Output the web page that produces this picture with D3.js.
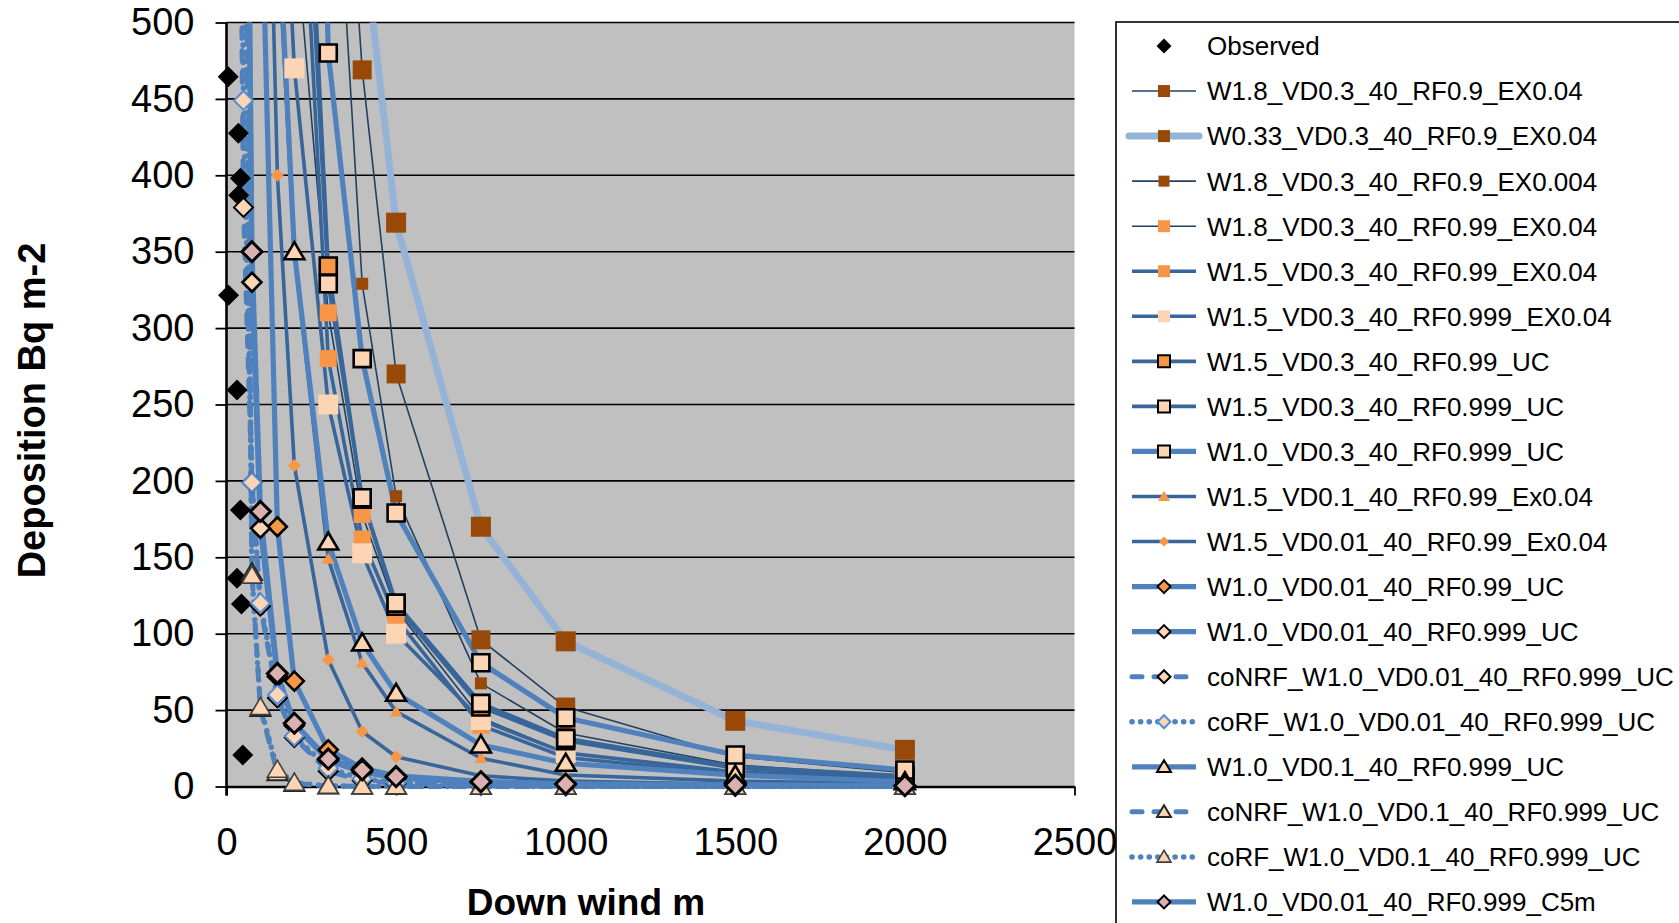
<!DOCTYPE html>
<html>
<head>
<meta charset="utf-8">
<script src="https://cdn.jsdelivr.net/npm/d3@7"></script>
<style>
  html, body { margin: 0; padding: 0; background: #ffffff; }
  svg { display: block; font-family: "Liberation Sans", Arial, sans-serif; }
</style>
</head>
<body>
<svg id="chart" width="1679" height="923"></svg>
<script>
// ---- data -------------------------------------------------------------
// Down-wind sampling distances (m) shared by all model runs
const distances = [25, 50, 75, 100, 150, 200, 300, 400, 500, 750, 1000, 1500, 2000];

// Field measurements
const obsDistance   = [5, 35, 41, 36, 6, 31, 41, 31, 44, 48];
const obsDeposition = [464.5, 427.5, 398, 387, 321.5, 259.5, 181, 136.3, 119.4, 20.6];

// Model runs, deposition (Bq m-2) at each distance; null = no point
const w18Vd03Rf09Ex04     = [null, null, null, null, null, null, 800, 469, 270, 96, 52, 19.5, 9];
const w033Vd03Rf09Ex04    = [null, null, null, null, null, null, 1000, 562, 369, 170, 95, 43, 24];
const w18Vd03Rf09Ex004    = [null, null, null, null, null, null, 700, 329, 190, 67.5, 35, 14, 7];
const w18Vd03Rf099Ex04    = [null, null, null, null, null, 567, 310, 178, 116, 45, 22, 9, 5];
const w15Vd03Rf099Ex04    = [null, null, null, null, null, 700, 280, 162, 110, 40, 19, 8, 4.5];
const w15Vd03Rf0999Ex04   = [null, null, null, null, 690, 470, 250, 152.6, 100, 43.5, 22, 9.5, 5.5];
const w15Vd03Rf099Uc      = [null, null, null, null, null, 800, 340.6, 188, 118, 52, 30, 12, 6];
const w15Vd03Rf0999Uc     = [null, null, null, null, null, 760, 329, 189, 120, 54.4, 31.5, 13, 7];
const w10Vd03Rf0999Uc     = [null, null, null, null, null, 1400, 480, 280, 179, 81, 45, 20.6, 10.8];
const w15Vd01Rf099Ex04    = [null, null, null, null, 560, 350, 149, 81, 49, 18.5, 7.5, 3.5, 2];
const w15Vd001Rf099Ex04   = [null, null, null, 850, 400, 210, 83, 36, 19.5, 7, 3.5, 1.5, 0.8];
const w10Vd001Rf099Uc     = [null, null, null, 615, 170, 69, 24, 12, 7, 3.3, 1.8, 1, 0.6];
const w10Vd001Rf0999Uc    = [null, 900, 330, 169, 72, 40, 17, 9.5, 5.5, 2.5, 1.4, 0.8, 0.4];
const coNrfVd001Rf0999Uc  = [1000, 379, 199, 118, 58, 32, 10, 4, 2, 0.6, 0.3, 0.1, 0.05];
const coRfVd001Rf0999Uc   = [1200, 449, 199, 120, 60, 33, 12, 5, 2.5, 0.8, 0.4, 0.15, 0.08];
const w10Vd01Rf0999Uc     = [null, null, null, null, 580, 350, 160, 94, 61, 27.2, 15.2, 7.5, 3.1];
const coNrfVd01Rf0999Uc   = [null, 740, 140, 51, 9, 2, 0.3, 0.1, 0.05, 0, 0, 0, 0];
const coRfVd01Rf0999Uc    = [null, 700, 138, 52, 11, 2.5, 0.4, 0.15, 0.1, 0, 0, 0, 0];
const w10Vd001Rf0999C5m   = [null, 950, 350, 180, 74, 41.4, 18, 10.8, 6.4, 3.1, 1.6, 0.9, 0.5];

const seriesLabels = [
  "Observed",
  "W1.8_VD0.3_40_RF0.9_EX0.04",
  "W0.33_VD0.3_40_RF0.9_EX0.04",
  "W1.8_VD0.3_40_RF0.9_EX0.004",
  "W1.8_VD0.3_40_RF0.99_EX0.04",
  "W1.5_VD0.3_40_RF0.99_EX0.04",
  "W1.5_VD0.3_40_RF0.999_EX0.04",
  "W1.5_VD0.3_40_RF0.99_UC",
  "W1.5_VD0.3_40_RF0.999_UC",
  "W1.0_VD0.3_40_RF0.999_UC",
  "W1.5_VD0.1_40_RF0.99_Ex0.04",
  "W1.5_VD0.01_40_RF0.99_Ex0.04",
  "W1.0_VD0.01_40_RF0.99_UC",
  "W1.0_VD0.01_40_RF0.999_UC",
  "coNRF_W1.0_VD0.01_40_RF0.999_UC",
  "coRF_W1.0_VD0.01_40_RF0.999_UC",
  "W1.0_VD0.1_40_RF0.999_UC",
  "coNRF_W1.0_VD0.1_40_RF0.999_UC",
  "coRF_W1.0_VD0.1_40_RF0.999_UC",
  "W1.0_VD0.01_40_RF0.999_C5m"
];

const xTicks = [0, 500, 1000, 1500, 2000, 2500];
const yTicks = [0, 50, 100, 150, 200, 250, 300, 350, 400, 450, 500];

// ---- styling ----------------------------------------------------------
const BROWN = "#984807", ORANGE = "#F79646", PEACH = "#FCD5B5", PINK = "#D9B1B1";
const NAVY = "#22405F", MID = "#38659A", BLUE = "#4F81BD", LIGHT = "#95B3D7";

const thin   = { color: NAVY,  width: 1.6 };
const light  = { color: LIGHT, width: 7, cap: "round" };
const mid    = { color: MID,   width: 3.6 };
const thick  = { color: BLUE,  width: 5.2 };
const dashed = { color: BLUE,  width: 5,   dash: "10,12", cap: "round" };
const dotted = { color: BLUE,  width: 5.5, dash: "0.1,8.5", cap: "round" };

const mk = (shape, size, fill, stroke, sw, lsize) => ({ shape, size, fill, stroke, sw: sw || 0, lsize });

const modelSeries = [
  { values: w18Vd03Rf09Ex04,    line: thin,   marker: mk("square", 19, BROWN, null, 0, 12) },
  { values: w033Vd03Rf09Ex04,   line: light,  marker: mk("square", 20, BROWN, null, 0, 12) },
  { values: w18Vd03Rf09Ex004,   line: thin,   marker: mk("square", 12, BROWN, null, 0, 11) },
  { values: w18Vd03Rf099Ex04,   line: thin,   marker: mk("square", 17, ORANGE, null, 0, 12) },
  { values: w15Vd03Rf099Ex04,   line: mid,    marker: mk("square", 17, ORANGE, null, 0, 12) },
  { values: w15Vd03Rf0999Ex04,  line: mid,    marker: mk("square", 20, PEACH, null, 0, 12) },
  { values: w15Vd03Rf099Uc,     line: mid,    marker: mk("square", 17, ORANGE, "#000", 2.6, 12) },
  { values: w15Vd03Rf0999Uc,    line: mid,    marker: mk("square", 17, PEACH, "#000", 2.6, 12) },
  { values: w10Vd03Rf0999Uc,    line: thick,  marker: mk("square", 17, PEACH, "#000", 2.6, 12) },
  { values: w15Vd01Rf099Ex04,   line: mid,    marker: mk("triangle", 13, ORANGE, null, 0, 12) },
  { values: w15Vd001Rf099Ex04,  line: mid,    marker: mk("diamond", 13, ORANGE, null, 0, 10) },
  { values: w10Vd001Rf099Uc,    line: thick,  marker: mk("diamond", 19, ORANGE, "#000", 2.6, 13) },
  { values: w10Vd001Rf0999Uc,   line: thick,  marker: mk("diamond", 19, PEACH, "#000", 2.6, 13) },
  { values: coNrfVd001Rf0999Uc, line: dashed, marker: mk("diamond", 19, PEACH, "#000", 2, 13) },
  { values: coRfVd001Rf0999Uc,  line: dotted, marker: mk("diamond", 19, PEACH, "#558ED5", 2, 13) },
  { values: w10Vd01Rf0999Uc,    line: thick,  marker: mk("triangle", 20, PEACH, "#000", 2.6, 14) },
  { values: coNrfVd01Rf0999Uc,  line: dashed, marker: mk("triangle", 20, PEACH, "#262626", 2, 14) },
  { values: coRfVd01Rf0999Uc,   line: dotted, marker: mk("triangle", 20, PEACH, "#404040", 1.6, 14) },
  { values: w10Vd001Rf0999C5m,  line: thick,  marker: mk("diamond", 20, PINK, "#000", 3, 13) }
];
const observedMarker = mk("diamond", 21, "#000", null, 0, 15);

// ---- layout -----------------------------------------------------------
const plot = { left: 226.5, right: 1074.5, top: 22.5, bottom: 786.5 };
const x = d3.scaleLinear().domain([0, 2500]).range([plot.left, plot.right]);
const y = d3.scaleLinear().domain([0, 500]).range([plot.bottom, plot.top]);

const svg = d3.select("#chart");

function markerPath(shape, s) {
  const h = s / 2;
  if (shape === "square") return `M${-h},${-h}H${h}V${h}H${-h}Z`;
  if (shape === "diamond") return `M0,${-h}L${h},0L0,${h}L${-h},0Z`;
  // triangle, point up, centred on the value
  return `M0,${-h * 0.95}L${h},${h * 0.75}L${-h},${h * 0.75}Z`;
}

// plot area
svg.append("rect")
  .attr("x", plot.left).attr("y", plot.top)
  .attr("width", plot.right - plot.left).attr("height", plot.bottom - plot.top)
  .attr("fill", "#C0C0C0");

// horizontal gridlines
svg.append("g").selectAll("line").data(yTicks.filter(t => t > 0)).join("line")
  .attr("x1", plot.left).attr("x2", plot.right)
  .attr("y1", d => y(d)).attr("y2", d => y(d))
  .attr("stroke", "#000").attr("stroke-width", 1.6);

// axes
const yAxis = svg.append("g")
  .attr("transform", `translate(${plot.left},0)`)
  .call(d3.axisLeft(y).tickValues(yTicks).tickSize(11).tickPadding(21).tickSizeOuter(0));
const xAxis = svg.append("g")
  .attr("transform", `translate(0,${plot.bottom})`)
  .call(d3.axisBottom(x).tickValues(xTicks).tickFormat(d3.format("d"))
    .tickSize(9).tickPadding(33).tickSizeOuter(0));

[yAxis, xAxis].forEach(g => {
  g.select(".domain").attr("stroke", "#000").attr("stroke-width", 2.6);
  g.selectAll(".tick line").attr("stroke", "#000").attr("stroke-width", 1.8);
  g.selectAll(".tick text")
    .attr("fill", "#000")
    .style("font-size", "38px")
    .style("font-family", "'Liberation Sans', Arial, sans-serif");
});
yAxis.select(".domain").attr("d", `M0,${plot.top}V${plot.bottom + 9}`);

// axis titles
svg.append("text")
  .attr("transform", `translate(45,${(plot.top + plot.bottom) / 2 + 6}) rotate(-90)`)
  .attr("text-anchor", "middle")
  .style("font-size", "38px").style("font-weight", "bold")
  .text("Deposition Bq m-2");
svg.append("text")
  .attr("x", 586).attr("y", 915)
  .attr("text-anchor", "middle")
  .style("font-size", "37px").style("font-weight", "bold")
  .text("Down wind m");

// series lines (clipped to the plot top)
svg.append("clipPath").attr("id", "plotClip")
  .append("rect").attr("x", plot.left - 10).attr("y", plot.top)
  .attr("width", plot.right - plot.left + 20).attr("height", 923 - plot.top);

const line = d3.line()
  .defined(d => d.v != null)
  .x(d => x(d.d)).y(d => y(d.v));

const lineLayer = svg.append("g").attr("clip-path", "url(#plotClip)");
modelSeries.forEach(s => {
  const pts = distances.map((d, i) => ({ d, v: s.values[i] }));
  lineLayer.append("path")
    .attr("d", line(pts))
    .attr("fill", "none")
    .attr("stroke", s.line.color)
    .attr("stroke-width", s.line.width)
    .attr("stroke-linejoin", "round")
    .attr("stroke-linecap", s.line.cap || "butt")
    .attr("stroke-dasharray", s.line.dash || null);
});

// markers, drawn above every line
function drawMarkers(g, pts, m) {
  g.selectAll(null).data(pts.filter(p => p.v != null && p.v <= 500)).join("path")
    .attr("transform", p => `translate(${x(p.d)},${y(p.v)})`)
    .attr("d", markerPath(m.shape, m.size))
    .attr("fill", m.fill)
    .attr("stroke", m.stroke || "none")
    .attr("stroke-width", m.sw)
    .attr("stroke-linejoin", "miter");
}
const markerLayer = svg.append("g");
drawMarkers(markerLayer.append("g"),
  obsDistance.map((d, i) => ({ d, v: obsDeposition[i] })), observedMarker);
modelSeries.forEach(s => {
  drawMarkers(markerLayer.append("g"),
    distances.map((d, i) => ({ d, v: s.values[i] })), s.marker);
});

// legend
const legend = svg.append("g");
legend.append("rect")
  .attr("x", 1116).attr("y", 22).attr("width", 700).attr("height", 1000)
  .attr("fill", "#fff").attr("stroke", "#000").attr("stroke-width", 1.6);

const rowY = i => 46 + i * 45.05;
const allStyles = [{ line: null, marker: observedMarker }].concat(modelSeries);
allStyles.forEach((s, i) => {
  const g = legend.append("g").attr("transform", `translate(0,${rowY(i)})`);
  if (s.line) {
    const ext = s.line === light ? 3 : 0;
    g.append("line")
      .attr("x1", 1132 - ext).attr("x2", 1196 + ext).attr("y1", 0).attr("y2", 0)
      .attr("stroke", s.line.color)
      .attr("stroke-width", s.line.width)
      .attr("stroke-linecap", s.line.cap || "butt")
      .attr("stroke-dasharray", s.line.dash || null);
  }
  g.append("path")
    .attr("transform", "translate(1164,0)")
    .attr("d", markerPath(s.marker.shape, s.marker.lsize))
    .attr("fill", s.marker.fill)
    .attr("stroke", s.marker.stroke || "none")
    .attr("stroke-width", s.marker.sw ? Math.min(s.marker.sw, 2) : 0);
  g.append("text")
    .attr("x", 1207).attr("y", 0).attr("dy", "0.36em")
    .style("font-size", "26px")
    .text(seriesLabels[i]);
});
</script>
</body>
</html>
